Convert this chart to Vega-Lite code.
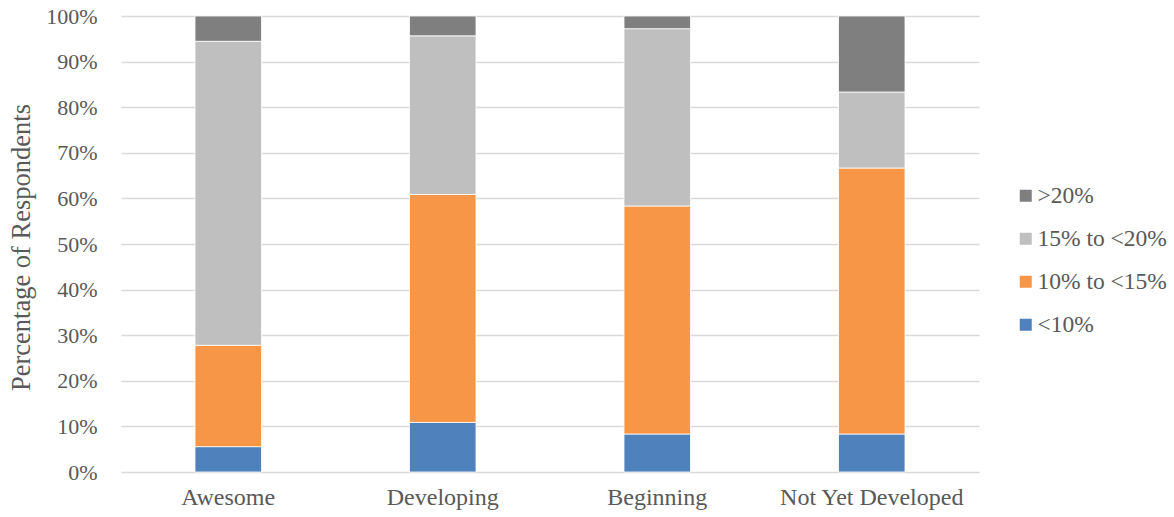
{
  "$schema": "https://vega.github.io/schema/vega-lite/v6.json",
  "width": 858,
  "height": 456,
  "autosize": {"type": "none"},
  "padding": {"left": 121, "top": 16, "right": 195, "bottom": 45},
  "background": "white",
  "config": {
    "view": {"stroke": null},
    "font": "Liberation Serif",
    "text": {"font": "Liberation Serif"}
  },
  "data": {
    "values": [
      {"group": "Awesome", "range": "<10%", "order": 1, "pct": 5.56},
      {"group": "Awesome", "range": "10% to <15%", "order": 2, "pct": 22.22},
      {"group": "Awesome", "range": "15% to <20%", "order": 3, "pct": 66.67},
      {"group": "Awesome", "range": ">20%", "order": 4, "pct": 5.55},
      {"group": "Developing", "range": "<10%", "order": 1, "pct": 10.87},
      {"group": "Developing", "range": "10% to <15%", "order": 2, "pct": 50.0},
      {"group": "Developing", "range": "15% to <20%", "order": 3, "pct": 34.78},
      {"group": "Developing", "range": ">20%", "order": 4, "pct": 4.35},
      {"group": "Beginning", "range": "<10%", "order": 1, "pct": 8.33},
      {"group": "Beginning", "range": "10% to <15%", "order": 2, "pct": 50.0},
      {"group": "Beginning", "range": "15% to <20%", "order": 3, "pct": 38.89},
      {"group": "Beginning", "range": ">20%", "order": 4, "pct": 2.78},
      {"group": "Not Yet Developed", "range": "<10%", "order": 1, "pct": 8.33},
      {"group": "Not Yet Developed", "range": "10% to <15%", "order": 2, "pct": 58.34},
      {"group": "Not Yet Developed", "range": "15% to <20%", "order": 3, "pct": 16.66},
      {"group": "Not Yet Developed", "range": ">20%", "order": 4, "pct": 16.67}
    ]
  },
  "mark": {"type": "bar", "stroke": "white", "strokeWidth": 0.8},
  "encoding": {
    "x": {
      "field": "group",
      "type": "nominal",
      "sort": ["Awesome", "Developing", "Beginning", "Not Yet Developed"],
      "scale": {"paddingInner": 0.69, "paddingOuter": 0.345},
      "axis": {
        "title": null,
        "labelAngle": 0,
        "labelFont": "Liberation Serif",
        "labelFontSize": 24,
        "labelColor": "#595959",
        "labelPadding": 13,
        "labelLimit": 0,
        "ticks": false,
        "domain": false,
        "grid": false
      }
    },
    "y": {
      "field": "pct",
      "type": "quantitative",
      "stack": "zero",
      "scale": {"domain": [0, 100], "nice": false},
      "axis": {
        "title": "Percentage of Respondents",
        "titleFont": "Liberation Serif",
        "titleFontSize": 26.5,
        "titleFontWeight": "normal",
        "titleColor": "#595959",
        "titleX": -100,
        "titleY": 231,
        "titleAngle": -90,
        "titleAlign": "center",
        "titleBaseline": "middle",
        "values": [0, 10, 20, 30, 40, 50, 60, 70, 80, 90, 100],
        "labelExpr": "datum.value + '%'",
        "labelFont": "Liberation Serif",
        "labelFontSize": 22,
        "labelColor": "#595959",
        "labelPadding": 24,
        "ticks": false,
        "domain": false,
        "grid": true,
        "gridColor": "#d9d9d9",
        "gridWidth": 1.5
      }
    },
    "color": {
      "field": "range",
      "type": "nominal",
      "scale": {
        "domain": [">20%", "15% to <20%", "10% to <15%", "<10%"],
        "range": ["#7f7f7f", "#bfbfbf", "#f79646", "#4f81bd"]
      },
      "legend": {
        "title": null,
        "orient": "none",
        "legendX": 893,
        "legendY": 168,
        "symbolType": "square",
        "symbolSize": 144,
        "symbolStrokeWidth": 0,
        "labelFont": "Liberation Serif",
        "labelFontSize": 23.5,
        "labelColor": "#595959",
        "labelOffset": 0,
        "labelLimit": 0,
        "rowPadding": 18
      }
    },
    "order": {"field": "order", "type": "quantitative"}
  }
}
